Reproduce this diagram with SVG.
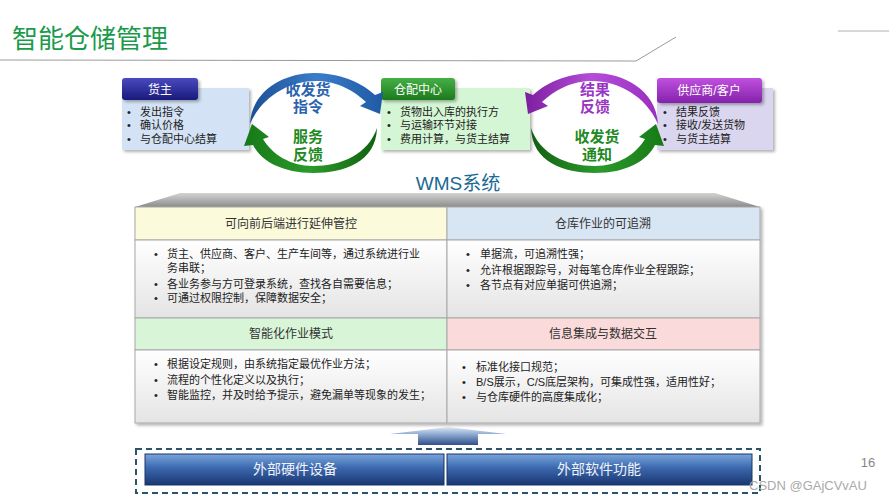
<svg xmlns="http://www.w3.org/2000/svg" width="889" height="500" viewBox="0 0 889 500">
<defs>
<style>
text{font-family:"Liberation Sans","Noto Sans CJK SC",sans-serif;}
.b{font-size:11px;fill:#222;}
.h{font-size:12px;fill:#fff;text-anchor:middle;}
.th{font-size:12px;fill:#333;text-anchor:middle;}
.al{font-size:15px;font-weight:bold;text-anchor:middle;}
.cell{stroke:#a8a8a8;stroke-width:1;}
</style>
<linearGradient id="gNavy" x1="0" y1="0" x2="0" y2="1"><stop offset="0" stop-color="#4a4ac0"/><stop offset="1" stop-color="#1a1a7a"/></linearGradient>
<linearGradient id="gGreen" x1="0" y1="0" x2="0" y2="1"><stop offset="0" stop-color="#46b046"/><stop offset="1" stop-color="#1c7a1c"/></linearGradient>
<linearGradient id="gPurple" x1="0" y1="0" x2="0" y2="1"><stop offset="0" stop-color="#c050e0"/><stop offset="1" stop-color="#8422aa"/></linearGradient>
<linearGradient id="gBody" x1="0" y1="0" x2="0" y2="1"><stop offset="0" stop-color="#ffffff"/><stop offset="1" stop-color="#e4e4e4"/></linearGradient>
<linearGradient id="gTrap" x1="0" y1="0" x2="0" y2="1"><stop offset="0" stop-color="#d4d4d4"/><stop offset="1" stop-color="#8c8c8c"/></linearGradient>
<linearGradient id="gBar" x1="0" y1="0" x2="0" y2="1"><stop offset="0" stop-color="#7aa6dc"/><stop offset="0.45" stop-color="#3b68ae"/><stop offset="1" stop-color="#1a3670"/></linearGradient>
<linearGradient id="gUp" x1="0" y1="0" x2="0" y2="1"><stop offset="0" stop-color="#dde8f6"/><stop offset="0.5" stop-color="#7e9cc8"/><stop offset="1" stop-color="#2e5088"/></linearGradient>
<linearGradient id="gBlueArc" x1="0" y1="0" x2="1" y2="0"><stop offset="0" stop-color="#1a4f96"/><stop offset="0.5" stop-color="#3b7cc8"/><stop offset="1" stop-color="#1f5aa6"/></linearGradient>
<linearGradient id="gGreenArc" x1="0" y1="0" x2="1" y2="0"><stop offset="0" stop-color="#167a16"/><stop offset="0.5" stop-color="#2c9a2c"/><stop offset="1" stop-color="#106010"/></linearGradient>
<linearGradient id="gPurpArc" x1="0" y1="0" x2="1" y2="0"><stop offset="0" stop-color="#9a2ec0"/><stop offset="0.5" stop-color="#b44ed8"/><stop offset="1" stop-color="#7c1ea0"/></linearGradient>
<filter id="sh" x="-10%" y="-10%" width="125%" height="135%"><feDropShadow dx="2" dy="2" stdDeviation="1.5" flood-color="#000" flood-opacity="0.3"/></filter>
</defs>
<rect width="889" height="500" fill="#fff"/>

<g id="title">
<text x="12" y="48" font-size="26" fill="#1b9a4b" style="font-family:'Noto Sans CJK SC',sans-serif">智能仓储管理</text>
<polyline points="0,60 636,61 676,37" fill="none" stroke="#9a9a9a" stroke-width="1"/>
<line x1="838" y1="31" x2="889" y2="31" stroke="#b0b0b0" stroke-width="1"/>
</g>

<g id="huozhu">
<rect x="122" y="88" width="127" height="62" fill="#d3e3f5" filter="url(#sh)"/>
<rect x="122" y="78" width="76" height="22" rx="3" fill="url(#gNavy)" filter="url(#sh)"/>
<text class="h" x="160" y="94">货主</text>
<text class="b" x="127" y="116">•</text><text class="b" x="140" y="116">发出指令</text>
<text class="b" x="127" y="129">•</text><text class="b" x="140" y="129">确认价格</text>
<text class="b" x="127" y="143">•</text><text class="b" x="140" y="143">与仓配中心结算</text>
</g>

<g id="cangpei">
<rect x="381" y="88" width="149" height="62" fill="#d4f6d4" filter="url(#sh)"/>
<rect x="381" y="78" width="74" height="22" rx="3" fill="url(#gGreen)" filter="url(#sh)"/>
<text class="h" x="418" y="94">仓配中心</text>
<text class="b" x="387" y="116">•</text><text class="b" x="400" y="116">货物出入库的执行方</text>
<text class="b" x="387" y="129">•</text><text class="b" x="400" y="129">与运输环节对接</text>
<text class="b" x="387" y="143">•</text><text class="b" x="400" y="143">费用计算，与货主结算</text>
</g>

<g id="gongying">
<rect x="657" y="88" width="116" height="62" fill="#dad6ef" filter="url(#sh)"/>
<rect x="657" y="78" width="105" height="25" rx="3" fill="url(#gPurple)" filter="url(#sh)"/>
<text class="h" x="709" y="95">供应商/客户</text>
<text class="b" x="663" y="116">•</text><text class="b" x="676" y="116">结果反馈</text>
<text class="b" x="663" y="129">•</text><text class="b" x="676" y="129">接收/发送货物</text>
<text class="b" x="663" y="143">•</text><text class="b" x="676" y="143">与货主结算</text>
</g>

<g id="connectors">
<path d="M250,124 C252,88 288,72 316,73 C344,74 363,84 375,95 L383,92 L380,114 L360,106 L366,102 C354,91 338,81 316,81 C290,81 262,96 250,124 Z" fill="url(#gBlueArc)"/>
<path d="M377,128 C376,162 344,173 313,173 C282,173 261,161 253,145 L244,146 L252,124 L269,137 L263,139 C272,154 290,166 313,166 C342,166 368,154 377,128 Z" fill="url(#gGreenArc)"/>
<g transform="translate(908,0) scale(-1,1)">
<path d="M250,124 C252,88 288,72 316,73 C344,74 363,84 375,95 L383,92 L380,114 L360,106 L366,102 C354,91 338,81 316,81 C290,81 262,96 250,124 Z" fill="url(#gPurpArc)"/>
<path d="M377,128 C376,162 344,173 313,173 C282,173 261,161 253,145 L244,146 L252,124 L269,137 L263,139 C272,154 290,166 313,166 C342,166 368,154 377,128 Z" fill="url(#gGreenArc)"/>
</g>
<text class="al" x="308" y="95" fill="#2a63b0">收发货</text>
<text class="al" x="308" y="112" fill="#2a63b0">指令</text>
<text class="al" x="308" y="142" fill="#1f8a1f">服务</text>
<text class="al" x="308" y="160" fill="#1f8a1f">反馈</text>
<text class="al" x="595" y="95" fill="#9a36c4">结果</text>
<text class="al" x="595" y="112" fill="#9a36c4">反馈</text>
<text class="al" x="597" y="142" fill="#1f8a1f">收发货</text>
<text class="al" x="597" y="160" fill="#1f8a1f">通知</text>
</g>

<g id="wms">
<text x="458" y="190" font-size="19" fill="#1a6a92" text-anchor="middle">WMS系统</text>
<polygon points="180,193 715,193 760,207 135,207" fill="url(#gTrap)"/>
</g>

<g id="table" filter="url(#sh)">
<rect class="cell" x="135" y="207" width="312" height="33" fill="#fbfbdc"/>
<rect class="cell" x="447" y="207" width="313" height="33" fill="#d8e6f4"/>
<rect class="cell" x="135" y="240" width="312" height="78" fill="url(#gBody)"/>
<rect class="cell" x="447" y="240" width="313" height="78" fill="url(#gBody)"/>
<rect class="cell" x="135" y="318" width="312" height="32" fill="#d8f5d8"/>
<rect class="cell" x="447" y="318" width="313" height="32" fill="#fadada"/>
<rect class="cell" x="135" y="350" width="312" height="73" fill="url(#gBody)"/>
<rect class="cell" x="447" y="350" width="313" height="73" fill="url(#gBody)"/>
</g>
<g id="cell1">
<text class="th" x="291" y="228">可向前后端进行延伸管控</text>
<text class="b" x="154" y="258">•</text><text class="b" x="167" y="258">货主、供应商、客户、生产车间等，通过系统进行业</text>
<text class="b" x="167" y="272">务串联；</text>
<text class="b" x="154" y="288">•</text><text class="b" x="167" y="288">各业务参与方可登录系统，查找各自需要信息；</text>
<text class="b" x="154" y="302">•</text><text class="b" x="167" y="302">可通过权限控制，保障数据安全；</text>
</g>
<g id="cell2">
<text class="th" x="603" y="228">仓库作业的可追溯</text>
<text class="b" x="466" y="258">•</text><text class="b" x="480" y="258">单据流，可追溯性强；</text>
<text class="b" x="466" y="274">•</text><text class="b" x="480" y="274">允许根据跟踪号，对每笔仓库作业全程跟踪；</text>
<text class="b" x="466" y="289">•</text><text class="b" x="480" y="289">各节点有对应单据可供追溯；</text>
</g>
<g id="cell3">
<text class="th" x="291" y="338">智能化作业模式</text>
<text class="b" x="154" y="368">•</text><text class="b" x="167" y="368">根据设定规则，由系统指定最优作业方法；</text>
<text class="b" x="154" y="384">•</text><text class="b" x="167" y="384">流程的个性化定义以及执行；</text>
<text class="b" x="154" y="399">•</text><text class="b" x="167" y="399">智能监控，并及时给予提示，避免漏单等现象的发生；</text>
</g>
<g id="cell4">
<text class="th" x="603" y="338">信息集成与数据交互</text>
<text class="b" x="462" y="371">•</text><text class="b" x="476" y="371">标准化接口规范；</text>
<text class="b" x="462" y="386">•</text><text class="b" x="476" y="386">B/S展示，C/S底层架构，可集成性强，适用性好；</text>
<text class="b" x="462" y="401">•</text><text class="b" x="476" y="401">与仓库硬件的高度集成化；</text>
</g>

<g id="uparrow">
<polygon points="390,434 448,427 506,434 478,434 478,445 418,445 418,434" fill="url(#gUp)"/>
</g>

<g id="external">
<rect x="136" y="449" width="624" height="44" fill="none" stroke="#2b5468" stroke-width="2" stroke-dasharray="6,4"/>
<rect x="145" y="454" width="299" height="31" fill="url(#gBar)" stroke="#1a3466" stroke-width="1"/>
<rect x="447" y="454" width="305" height="31" fill="url(#gBar)" stroke="#1a3466" stroke-width="1"/>
<text x="295" y="474" font-size="14" fill="#f2f4fa" text-anchor="middle">外部硬件设备</text>
<text x="599" y="474" font-size="14" fill="#f2f4fa" text-anchor="middle">外部软件功能</text>
</g>

<g id="footer">
<text x="868" y="467" font-size="13" fill="#888" text-anchor="middle">16</text>
<text x="749" y="490" font-size="13" fill="#aaa">CSDN @GAjCVvAU</text>
</g>
</svg>
